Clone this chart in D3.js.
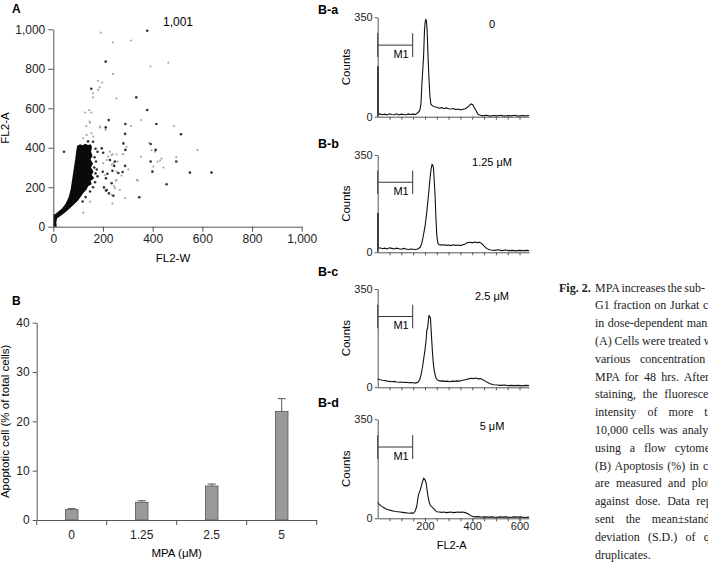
<!DOCTYPE html>
<html lang="en">
<head>
<meta charset="utf-8">
<title>Fig. 2</title>
<style>
body { margin: 0; background: #fff; }
svg { display: block; font-family: "Liberation Sans", Arial, sans-serif; }
.axis path, .axis line { stroke: #555; }
.axis text { fill: #222; }
.caption { font-family: "Liberation Serif", "Times New Roman", serif; font-size: 12px; fill: #222; }
</style>
</head>
<body>
<svg id="fig" width="708" height="565"></svg>
<script src="https://cdn.jsdelivr.net/npm/d3@7/dist/d3.min.js"></script>
<script>
// ---- panel A: FL2-W vs FL2-A scatter ----
const scatterTicks = [0, 200, 400, 600, 800, 1000];
// outline of the dense (saturated) cell cloud, [FL2-W, FL2-A]
const clusterOutline = [
  [0,0],[0,62],[8,64],[18,74],[35,92],[50,118],[62,150],[70,190],[76,240],[82,290],[88,340],
  [92,380],[96,410],[108,418],[118,412],[128,420],[140,414],[150,418],[156,405],[152,380],
  [158,360],[150,340],[160,320],[152,300],[162,280],[155,262],[165,245],[150,232],[155,215],
  [140,205],[135,190],[120,170],[110,150],[98,130],[85,115],[68,95],[50,75],[30,55],[15,42],
  [12,20],[14,0]
];
const darkPts = [
  [378,993],[211,836],[153,699],[334,655],[378,591],[223,540],[290,520],[415,520],[211,503],
  [289,470],[514,468],[282,422],[290,389],[392,419],[412,389],[495,330],[392,330],[399,279],
  [550,274],[637,274],[456,215],[346,149],[43,380],[199,278],[218,268],[238,283],[262,272],
  [212,245],[235,220],[215,186],[204,199],[212,183],[224,169],[242,157],[195,397],[201,375],
  [228,338],[248,330],[245,308],[289,308],[279,277],
  [165,300],[172,330],[170,270],[178,255],[168,225],[160,200],[148,178],[130,150],[118,128],
  [178,380],[170,395],[160,430],[140,432],[166,352],[175,290]
];
const lightPts = [
  [191,983],[240,934],[313,943],[391,811],[463,831],[240,774],[180,738],[197,730],[187,706],
  [180,693],[160,675],[160,655],[254,650],[144,591],[128,578],[153,578],[146,532],[354,540],
  [133,510],[313,510],[486,510],[187,503],[210,490],[295,405],[386,425],[580,389],[282,367],
  [353,355],[495,352],[436,345],[420,330],[443,300],[340,233],[238,118],[255,236],[228,380],
  [239,367],[255,367],[279,367],[215,338],[259,330],[235,313],[302,290],[275,259],[252,233],
  [244,206],[248,195],[134,465],[154,473],[161,456],[121,448],[148,527],[188,507],[221,355],
  [235,363],[201,321],[242,321],[255,279],[208,262],[268,186],[235,161],[289,144],[336,237],
  [396,388],[409,380],[148,127],[121,71],[430,335],[403,304]
];

// ---- panel B: apoptosis bar chart ----
const doseLabels = ["0", "1.25", "2.5", "5"];
const apoptoticPct = [2.1, 3.6, 6.9, 22.0];
const apoptoticSD = [0.2, 0.3, 0.4, 2.6];
const pctTicks = [0, 10, 20, 30, 40];

// ---- panels B-a..B-d: DNA content histograms, [FL2-A channel, counts] ----
const histTicks = [0, 350];
const histLabelTicks = [200, 400, 600];
const histMinorTicks = [50, 100, 150, 200, 250, 300, 350, 400, 450, 500, 550, 600];
const m1Gate = [0, 148];
const m1Level = 252;
const histA = [
  [0,0],[0,176],[3,176],[3,8],[10,10],[20,7],[30,9],[40,6],[50,10],[60,8],[70,7],[80,10],[90,6],
  [100,9],[110,8],[120,7],[130,10],[140,8],[150,9],[160,8],[170,14],[178,22],[183,45],[187,117],
  [191,170],[194,211],[198,305],[201,335],[204,344],[207,330],[209,305],[213,211],[216,150],
  [218,117],[221,70],[225,44],[232,38],[240,35],[250,33],[260,30],[270,32],[280,29],[290,31],
  [300,28],[310,27],[320,29],[330,25],[340,27],[350,24],[360,26],[370,28],[380,33],[388,40],
  [395,45],[402,42],[410,30],[418,18],[425,8],[435,5],[445,3],[460,5],[475,2],[490,4],[505,3],
  [520,5],[535,2],[550,4],[565,3],[580,5],[595,2],[610,4],[625,3],[640,4]
];
const histB = [
  [0,0],[0,140],[3,140],[3,14],[10,16],[20,13],[30,15],[40,12],[50,16],[60,14],[70,12],[80,15],
  [90,13],[100,11],[110,14],[120,12],[130,10],[140,12],[150,11],[160,10],[170,12],[180,18],
  [186,30],[192,55],[200,92],[207,140],[213,190],[218,235],[222,272],[226,300],[230,316],
  [233,314],[236,302],[239,260],[243,200],[246,130],[250,60],[254,35],[258,28],[270,26],[280,27],
  [290,25],[300,26],[310,24],[320,27],[330,25],[340,26],[350,24],[360,27],[370,30],[380,35],
  [390,36],[400,34],[410,37],[420,35],[430,36],[440,32],[450,22],[460,14],[470,10],[480,8],
  [495,7],[510,9],[525,6],[540,8],[555,6],[570,7],[585,5],[600,7],[615,6],[630,7],[640,6]
];
const histC = [
  [0,30],[10,27],[20,25],[30,24],[40,22],[50,21],[60,20],[70,21],[80,19],[90,18],[100,19],
  [110,17],[120,18],[130,16],[140,17],[150,16],[160,15],[170,18],[178,28],[185,50],[190,75],
  [196,110],[201,139],[205,170],[208,205],[211,210],[214,235],[217,257],[220,250],[223,249],
  [226,205],[229,162],[232,120],[236,79],[240,55],[247,32],[255,25],[265,22],[275,23],[285,21],
  [295,22],[305,20],[315,22],[325,21],[335,23],[345,22],[355,24],[365,26],[375,28],[385,30],
  [395,32],[405,31],[415,33],[425,30],[435,31],[445,27],[455,22],[465,17],[476,13],[490,9],
  [505,8],[520,7],[535,8],[550,6],[565,7],[580,6],[595,7],[610,5],[625,7],[640,6]
];
const histD = [
  [0,57],[8,48],[16,42],[25,38],[35,33],[45,30],[55,28],[65,26],[75,24],[85,23],[95,22],
  [105,21],[115,20],[125,19],[135,18],[145,19],[152,18],[158,25],[165,41],[172,82],[178,95],
  [182,106],[188,125],[194,141],[198,139],[202,132],[205,124],[209,100],[212,82],[217,60],
  [222,47],[229,40],[236,35],[243,28],[250,23],[260,22],[270,21],[280,22],[290,20],[300,21],
  [310,22],[320,20],[330,21],[340,22],[350,21],[360,22],[370,20],[380,17],[390,12],[398,7],
  [410,5],[425,6],[440,4],[455,5],[470,4],[485,5],[500,3],[515,5],[530,4],[545,5],[560,3],
  [575,5],[590,4],[605,5],[620,3],[640,4]
];
const histPanels = [
  {tag: "B-a", dose: "0",            data: histA},
  {tag: "B-b", dose: "1.25 \u03bcM", data: histB},
  {tag: "B-c", dose: "2.5 \u03bcM",  data: histC},
  {tag: "B-d", dose: "5 \u03bcM",    data: histD}
];

const captionLines = [
  "MPA increases the sub-",
  "G1 fraction on Jurkat cells",
  "in dose-dependent manner.",
  "(A) Cells were treated with",
  "various concentration of",
  "MPA for 48 hrs. After PI",
  "staining, the fluorescence",
  "intensity of more than",
  "10,000 cells was analyzed",
  "using a flow cytometer.",
  "(B) Apoptosis (%) in cells",
  "are measured and plotted",
  "against dose. Data repre-",
  "sent the mean\u00b1standard",
  "deviation (S.D.) of qua-",
  "druplicates."
];

const svg = d3.select("#fig");

function styleAxis(g, size) {
  g.attr("class", "axis").attr("font-size", size).attr("font-family", null);
}

// ================= panel A =================
const xA = d3.scaleLinear().domain([0, 1000]).range([53.3, 301.7]);
const yA = d3.scaleLinear().domain([0, 1000]).range([226.7, 29.3]);
const gA = svg.append("g");

gA.append("path")
    .datum(clusterOutline)
    .attr("d", d3.line().x(d => xA(d[0])).y(d => yA(d[1])).curve(d3.curveLinearClosed))
    .attr("fill", "#0a0a0a");

gA.append("g").selectAll("circle")
  .data(lightPts)
  .join("circle")
    .attr("cx", d => xA(d[0]))
    .attr("cy", d => yA(d[1]))
    .attr("r", 1.1)
    .attr("fill", "#aaa");

gA.append("g").selectAll("circle")
  .data(darkPts)
  .join("circle")
    .attr("cx", d => xA(d[0]))
    .attr("cy", d => yA(d[1]))
    .attr("r", 1.3)
    .attr("fill", "#333");

gA.append("g")
    .attr("transform", `translate(0,${yA(0)})`)
    .call(d3.axisBottom(xA).tickValues(scatterTicks).tickFormat(d3.format(",")).tickSize(5).tickPadding(3).tickSizeOuter(0))
    .call(g => styleAxis(g, 12));

gA.append("g")
    .attr("transform", `translate(${xA(0)},0)`)
    .call(d3.axisLeft(yA).tickValues(scatterTicks).tickFormat(d3.format(",")).tickSize(5).tickPadding(3).tickSizeOuter(0))
    .call(g => styleAxis(g, 12));

gA.append("text").attr("x", 178).attr("y", 26).attr("font-size", 12).attr("text-anchor", "middle").text("1,001");
gA.append("text").attr("x", 173).attr("y", 262).attr("font-size", 11.5).attr("text-anchor", "middle").text("FL2-W");
gA.append("text").attr("transform", `translate(8.8,${(yA(0) + yA(1000)) / 2}) rotate(-90)`)
    .attr("font-size", 11.5).attr("text-anchor", "middle").text("FL2-A");
gA.append("text").attr("x", 12).attr("y", 13).attr("font-size", 12).attr("font-weight", "bold").text("A");

// ================= panel B =================
const xB = d3.scaleBand().domain(doseLabels).range([36.7, 316.7]).paddingInner(0.82).paddingOuter(0.41);
const yB = d3.scaleLinear().domain([0, 40]).range([520, 322.7]);
const gB = svg.append("g");
const bars = doseLabels.map((d, i) => ({dose: d, value: apoptoticPct[i], sd: apoptoticSD[i]}));

gB.append("g").selectAll("rect")
  .data(bars)
  .join("rect")
    .attr("x", d => xB(d.dose))
    .attr("y", d => yB(d.value))
    .attr("width", xB.bandwidth())
    .attr("height", d => yB(0) - yB(d.value))
    .attr("fill", "#9a9a9a")
    .attr("stroke", "#555")
    .attr("stroke-width", 0.8);

const err = gB.append("g").attr("stroke", "#555").attr("stroke-width", 1)
  .selectAll("g").data(bars).join("g")
    .attr("transform", d => `translate(${xB(d.dose) + xB.bandwidth() / 2},0)`);
err.append("line").attr("y1", d => yB(d.value)).attr("y2", d => yB(d.value + d.sd));
err.append("line").attr("x1", -4).attr("x2", 4).attr("y1", d => yB(d.value + d.sd)).attr("y2", d => yB(d.value + d.sd));

gB.append("g")
    .attr("transform", `translate(0,${yB(0)})`)
    .call(d3.axisBottom(xB).tickSize(0).tickPadding(10).tickSizeOuter(0))
    .call(g => styleAxis(g, 12))
    .call(g => g.selectAll(".bound")
      .data(d3.range(doseLabels.length + 1))
      .join("line")
        .attr("x1", i => xB.range()[0] + i * xB.step())
        .attr("x2", i => xB.range()[0] + i * xB.step())
        .attr("y2", 5)
        .attr("stroke", "#555"));

gB.append("g")
    .attr("transform", `translate(${xB.range()[0]},0)`)
    .call(d3.axisLeft(yB).tickValues(pctTicks).tickSize(4).tickPadding(3).tickSizeOuter(0))
    .call(g => styleAxis(g, 12));

gB.append("text").attr("x", 176.7).attr("y", 557).attr("font-size", 11.5).attr("text-anchor", "middle").text("MPA (\u03bcM)");
gB.append("text").attr("transform", `translate(8.8,${(yB(0) + yB(40)) / 2}) rotate(-90)`)
    .attr("font-size", 11.5).attr("text-anchor", "middle").text("Apoptotic cell (% of total cells)");
gB.append("text").attr("x", 12).attr("y", 305).attr("font-size", 12).attr("font-weight", "bold").text("B");

// ================= panels B-a .. B-d =================
const xH = d3.scaleLinear().domain([0, 640]).range([377.7, 529]);
const histTop = [17.3, 155, 289, 419.3];
const histBottom = [116.7, 252.3, 387.3, 518.3];
const tagY = [13.5, 148, 275.5, 406.5];

histPanels.forEach((p, i) => {
  const yH = d3.scaleLinear().domain([0, 350]).range([histBottom[i], histTop[i]]);
  const g = svg.append("g");

  g.append("path")
      .datum(p.data)
      .attr("d", d3.line().x(d => xH(d[0])).y(d => yH(d[1])))
      .attr("fill", "none")
      .attr("stroke", "#111")
      .attr("stroke-width", 1.1);

  // M1 gate marker
  const m1 = g.append("g").attr("stroke", "#333").attr("stroke-width", 1);
  m1.append("line").attr("x1", xH(m1Gate[0])).attr("x2", xH(m1Gate[1])).attr("y1", yH(m1Level)).attr("y2", yH(m1Level));
  m1Gate.forEach(v => m1.append("line").attr("x1", xH(v)).attr("x2", xH(v)).attr("y1", yH(m1Level + 42)).attr("y2", yH(m1Level - 42)));
  g.append("text").attr("x", xH((m1Gate[0] + m1Gate[1]) / 1.5)).attr("y", yH(m1Level) + 12.5)
      .attr("font-size", 11).attr("text-anchor", "middle").text("M1");

  g.append("g")
      .attr("transform", `translate(0,${yH(0)})`)
      .call(d3.axisBottom(xH).tickValues(histMinorTicks).tickSize(3).tickFormat("").tickSizeOuter(0))
      .call(gg => styleAxis(gg, 11));
  if (i === histPanels.length - 1) {
    g.append("g")
        .attr("transform", `translate(0,${yH(0)})`)
        .call(d3.axisBottom(xH).tickValues(histLabelTicks).tickSize(3).tickPadding(1).tickSizeOuter(0))
        .call(gg => styleAxis(gg, 11))
        .call(gg => gg.select(".domain").remove());
    g.append("text").attr("x", 451.7).attr("y", 549).attr("font-size", 11).attr("text-anchor", "middle").text("FL2-A");
  }

  g.append("g")
      .attr("transform", `translate(${xH(0)},0)`)
      .call(d3.axisLeft(yH).tickValues(histTicks).tickSize(3).tickPadding(2).tickSizeOuter(0))
      .call(gg => styleAxis(gg, 11));

  g.append("text").attr("transform", `translate(350,${(histTop[i] + histBottom[i]) / 2}) rotate(-90)`)
      .attr("font-size", 11.5).attr("text-anchor", "middle").text("Counts");
  g.append("text").attr("x", 492).attr("y", histTop[i] + 11).attr("font-size", 11).attr("text-anchor", "middle").text(p.dose);
  g.append("text").attr("x", 318).attr("y", tagY[i]).attr("font-size", 12.5).attr("font-weight", "bold").text(p.tag);
});

// ================= caption =================
// justified column runs past the right edge of the page, as in the source figure
const capX = 595, capW = 130, firstW = 110, capY = 291.5, capLead = 17.8;
const cap = svg.append("g").attr("class", "caption");
cap.append("text").attr("x", 559).attr("y", capY).attr("font-weight", "bold").text("Fig. 2.");
captionLines.forEach((line, i) => {
  const t = cap.append("text").attr("x", capX).attr("y", capY + i * capLead).text(line);
  const words = line.split(" ").length;
  if (i < captionLines.length - 1 && words > 1) {
    const w = i === 0 ? firstW : capW;
    t.attr("word-spacing", (w - t.node().getComputedTextLength()) / (words - 1));
  }
});
</script>
</body>
</html>
